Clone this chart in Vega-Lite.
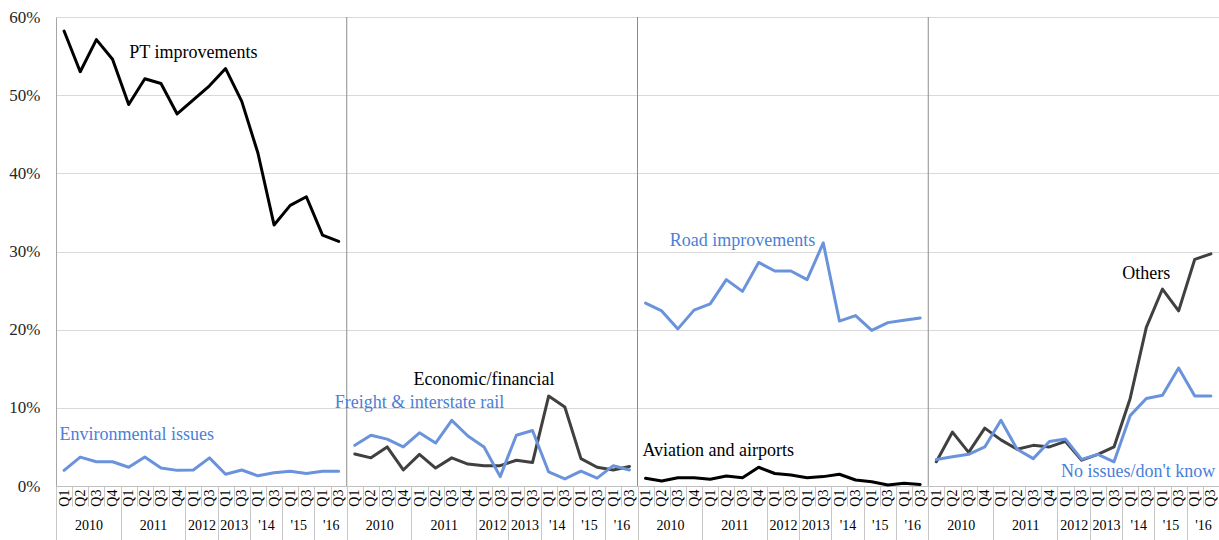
{
  "$schema": "https://vega.github.io/schema/vega-lite/v6.json",
  "width": 1163,
  "height": 469,
  "autosize": {"type": "none"},
  "padding": {"left": 56, "top": 17, "right": 0, "bottom": 54},
  "background": "white",
  "config": {
    "view": {"stroke": null},
    "font": "Liberation Serif",
    "axis": {"labelFont": "Liberation Serif", "titleFont": "Liberation Serif"},
    "text": {"font": "Liberation Serif"}
  },
  "datasets": {
    "pts": [
      {"key": "A|2010|Q1", "series": "PT improvements", "value": 0.582},
      {"key": "A|2010|Q2", "series": "PT improvements", "value": 0.530},
      {"key": "A|2010|Q3", "series": "PT improvements", "value": 0.571},
      {"key": "A|2010|Q4", "series": "PT improvements", "value": 0.546},
      {"key": "A|2011|Q1", "series": "PT improvements", "value": 0.488},
      {"key": "A|2011|Q2", "series": "PT improvements", "value": 0.521},
      {"key": "A|2011|Q3", "series": "PT improvements", "value": 0.515},
      {"key": "A|2011|Q4", "series": "PT improvements", "value": 0.476},
      {"key": "A|2012|Q1", "series": "PT improvements", "value": 0.494},
      {"key": "A|2012|Q3", "series": "PT improvements", "value": 0.512},
      {"key": "A|2013|Q1", "series": "PT improvements", "value": 0.534},
      {"key": "A|2013|Q3", "series": "PT improvements", "value": 0.492},
      {"key": "A|'14|Q1", "series": "PT improvements", "value": 0.426},
      {"key": "A|'14|Q3", "series": "PT improvements", "value": 0.334},
      {"key": "A|'15|Q1", "series": "PT improvements", "value": 0.359},
      {"key": "A|'15|Q3", "series": "PT improvements", "value": 0.370},
      {"key": "A|'16|Q1", "series": "PT improvements", "value": 0.321},
      {"key": "A|'16|Q3", "series": "PT improvements", "value": 0.313},
      {"key": "A|2010|Q1", "series": "Environmental issues", "value": 0.020},
      {"key": "A|2010|Q2", "series": "Environmental issues", "value": 0.037},
      {"key": "A|2010|Q3", "series": "Environmental issues", "value": 0.031},
      {"key": "A|2010|Q4", "series": "Environmental issues", "value": 0.031},
      {"key": "A|2011|Q1", "series": "Environmental issues", "value": 0.024},
      {"key": "A|2011|Q2", "series": "Environmental issues", "value": 0.037},
      {"key": "A|2011|Q3", "series": "Environmental issues", "value": 0.023},
      {"key": "A|2011|Q4", "series": "Environmental issues", "value": 0.020},
      {"key": "A|2012|Q1", "series": "Environmental issues", "value": 0.0205},
      {"key": "A|2012|Q3", "series": "Environmental issues", "value": 0.036},
      {"key": "A|2013|Q1", "series": "Environmental issues", "value": 0.015},
      {"key": "A|2013|Q3", "series": "Environmental issues", "value": 0.0205},
      {"key": "A|'14|Q1", "series": "Environmental issues", "value": 0.013},
      {"key": "A|'14|Q3", "series": "Environmental issues", "value": 0.017},
      {"key": "A|'15|Q1", "series": "Environmental issues", "value": 0.019},
      {"key": "A|'15|Q3", "series": "Environmental issues", "value": 0.016},
      {"key": "A|'16|Q1", "series": "Environmental issues", "value": 0.019},
      {"key": "A|'16|Q3", "series": "Environmental issues", "value": 0.019},
      {"key": "B|2010|Q1", "series": "Economic/financial", "value": 0.041},
      {"key": "B|2010|Q2", "series": "Economic/financial", "value": 0.036},
      {"key": "B|2010|Q3", "series": "Economic/financial", "value": 0.050},
      {"key": "B|2010|Q4", "series": "Economic/financial", "value": 0.0205},
      {"key": "B|2011|Q1", "series": "Economic/financial", "value": 0.0405},
      {"key": "B|2011|Q2", "series": "Economic/financial", "value": 0.023},
      {"key": "B|2011|Q3", "series": "Economic/financial", "value": 0.036},
      {"key": "B|2011|Q4", "series": "Economic/financial", "value": 0.028},
      {"key": "B|2012|Q1", "series": "Economic/financial", "value": 0.026},
      {"key": "B|2012|Q3", "series": "Economic/financial", "value": 0.026},
      {"key": "B|2013|Q1", "series": "Economic/financial", "value": 0.033},
      {"key": "B|2013|Q3", "series": "Economic/financial", "value": 0.030},
      {"key": "B|'14|Q1", "series": "Economic/financial", "value": 0.115},
      {"key": "B|'14|Q3", "series": "Economic/financial", "value": 0.101},
      {"key": "B|'15|Q1", "series": "Economic/financial", "value": 0.035},
      {"key": "B|'15|Q3", "series": "Economic/financial", "value": 0.024},
      {"key": "B|'16|Q1", "series": "Economic/financial", "value": 0.0205},
      {"key": "B|'16|Q3", "series": "Economic/financial", "value": 0.025},
      {"key": "B|2010|Q1", "series": "Freight & interstate rail", "value": 0.052},
      {"key": "B|2010|Q2", "series": "Freight & interstate rail", "value": 0.065},
      {"key": "B|2010|Q3", "series": "Freight & interstate rail", "value": 0.060},
      {"key": "B|2010|Q4", "series": "Freight & interstate rail", "value": 0.050},
      {"key": "B|2011|Q1", "series": "Freight & interstate rail", "value": 0.068},
      {"key": "B|2011|Q2", "series": "Freight & interstate rail", "value": 0.055},
      {"key": "B|2011|Q3", "series": "Freight & interstate rail", "value": 0.084},
      {"key": "B|2011|Q4", "series": "Freight & interstate rail", "value": 0.064},
      {"key": "B|2012|Q1", "series": "Freight & interstate rail", "value": 0.050},
      {"key": "B|2012|Q3", "series": "Freight & interstate rail", "value": 0.012},
      {"key": "B|2013|Q1", "series": "Freight & interstate rail", "value": 0.065},
      {"key": "B|2013|Q3", "series": "Freight & interstate rail", "value": 0.071},
      {"key": "B|'14|Q1", "series": "Freight & interstate rail", "value": 0.018},
      {"key": "B|'14|Q3", "series": "Freight & interstate rail", "value": 0.009},
      {"key": "B|'15|Q1", "series": "Freight & interstate rail", "value": 0.019},
      {"key": "B|'15|Q3", "series": "Freight & interstate rail", "value": 0.010},
      {"key": "B|'16|Q1", "series": "Freight & interstate rail", "value": 0.026},
      {"key": "B|'16|Q3", "series": "Freight & interstate rail", "value": 0.0205},
      {"key": "C|2010|Q1", "series": "Road improvements", "value": 0.234},
      {"key": "C|2010|Q2", "series": "Road improvements", "value": 0.224},
      {"key": "C|2010|Q3", "series": "Road improvements", "value": 0.201},
      {"key": "C|2010|Q4", "series": "Road improvements", "value": 0.225},
      {"key": "C|2011|Q1", "series": "Road improvements", "value": 0.233},
      {"key": "C|2011|Q2", "series": "Road improvements", "value": 0.264},
      {"key": "C|2011|Q3", "series": "Road improvements", "value": 0.249},
      {"key": "C|2011|Q4", "series": "Road improvements", "value": 0.286},
      {"key": "C|2012|Q1", "series": "Road improvements", "value": 0.275},
      {"key": "C|2012|Q3", "series": "Road improvements", "value": 0.275},
      {"key": "C|2013|Q1", "series": "Road improvements", "value": 0.264},
      {"key": "C|2013|Q3", "series": "Road improvements", "value": 0.311},
      {"key": "C|'14|Q1", "series": "Road improvements", "value": 0.211},
      {"key": "C|'14|Q3", "series": "Road improvements", "value": 0.218},
      {"key": "C|'15|Q1", "series": "Road improvements", "value": 0.199},
      {"key": "C|'15|Q3", "series": "Road improvements", "value": 0.209},
      {"key": "C|'16|Q1", "series": "Road improvements", "value": 0.212},
      {"key": "C|'16|Q3", "series": "Road improvements", "value": 0.215},
      {"key": "C|2010|Q1", "series": "Aviation and airports", "value": 0.0098},
      {"key": "C|2010|Q2", "series": "Aviation and airports", "value": 0.0064},
      {"key": "C|2010|Q3", "series": "Aviation and airports", "value": 0.0106},
      {"key": "C|2010|Q4", "series": "Aviation and airports", "value": 0.0106},
      {"key": "C|2011|Q1", "series": "Aviation and airports", "value": 0.0086},
      {"key": "C|2011|Q2", "series": "Aviation and airports", "value": 0.0128},
      {"key": "C|2011|Q3", "series": "Aviation and airports", "value": 0.0106},
      {"key": "C|2011|Q4", "series": "Aviation and airports", "value": 0.024},
      {"key": "C|2012|Q1", "series": "Aviation and airports", "value": 0.016},
      {"key": "C|2012|Q3", "series": "Aviation and airports", "value": 0.014},
      {"key": "C|2013|Q1", "series": "Aviation and airports", "value": 0.0106},
      {"key": "C|2013|Q3", "series": "Aviation and airports", "value": 0.012},
      {"key": "C|'14|Q1", "series": "Aviation and airports", "value": 0.015},
      {"key": "C|'14|Q3", "series": "Aviation and airports", "value": 0.0077},
      {"key": "C|'15|Q1", "series": "Aviation and airports", "value": 0.0055},
      {"key": "C|'15|Q3", "series": "Aviation and airports", "value": 0.0013},
      {"key": "C|'16|Q1", "series": "Aviation and airports", "value": 0.0035},
      {"key": "C|'16|Q3", "series": "Aviation and airports", "value": 0.002},
      {"key": "D|2010|Q1", "series": "Others", "value": 0.031},
      {"key": "D|2010|Q2", "series": "Others", "value": 0.069},
      {"key": "D|2010|Q3", "series": "Others", "value": 0.043},
      {"key": "D|2010|Q4", "series": "Others", "value": 0.074},
      {"key": "D|2011|Q1", "series": "Others", "value": 0.059},
      {"key": "D|2011|Q2", "series": "Others", "value": 0.047},
      {"key": "D|2011|Q3", "series": "Others", "value": 0.052},
      {"key": "D|2011|Q4", "series": "Others", "value": 0.050},
      {"key": "D|2012|Q1", "series": "Others", "value": 0.057},
      {"key": "D|2012|Q3", "series": "Others", "value": 0.033},
      {"key": "D|2013|Q1", "series": "Others", "value": 0.0405},
      {"key": "D|2013|Q3", "series": "Others", "value": 0.050},
      {"key": "D|'14|Q1", "series": "Others", "value": 0.112},
      {"key": "D|'14|Q3", "series": "Others", "value": 0.203},
      {"key": "D|'15|Q1", "series": "Others", "value": 0.252},
      {"key": "D|'15|Q3", "series": "Others", "value": 0.224},
      {"key": "D|'16|Q1", "series": "Others", "value": 0.290},
      {"key": "D|'16|Q3", "series": "Others", "value": 0.297},
      {"key": "D|2010|Q1", "series": "No issues/don't know", "value": 0.034},
      {"key": "D|2010|Q2", "series": "No issues/don't know", "value": 0.0375},
      {"key": "D|2010|Q3", "series": "No issues/don't know", "value": 0.0405},
      {"key": "D|2010|Q4", "series": "No issues/don't know", "value": 0.050},
      {"key": "D|2011|Q1", "series": "No issues/don't know", "value": 0.084},
      {"key": "D|2011|Q2", "series": "No issues/don't know", "value": 0.047},
      {"key": "D|2011|Q3", "series": "No issues/don't know", "value": 0.035},
      {"key": "D|2011|Q4", "series": "No issues/don't know", "value": 0.057},
      {"key": "D|2012|Q1", "series": "No issues/don't know", "value": 0.060},
      {"key": "D|2012|Q3", "series": "No issues/don't know", "value": 0.034},
      {"key": "D|2013|Q1", "series": "No issues/don't know", "value": 0.0405},
      {"key": "D|2013|Q3", "series": "No issues/don't know", "value": 0.031},
      {"key": "D|'14|Q1", "series": "No issues/don't know", "value": 0.090},
      {"key": "D|'14|Q3", "series": "No issues/don't know", "value": 0.112},
      {"key": "D|'15|Q1", "series": "No issues/don't know", "value": 0.116},
      {"key": "D|'15|Q3", "series": "No issues/don't know", "value": 0.151},
      {"key": "D|'16|Q1", "series": "No issues/don't know", "value": 0.115},
      {"key": "D|'16|Q3", "series": "No issues/don't know", "value": 0.115}
    ],
    "notes": [
      {"series": "PT improvements", "key": "A|2012|Q1", "value": 0.554},
      {"series": "Environmental issues", "key": "A|2011|Q2", "value": 0.065},
      {"series": "Freight & interstate rail", "key": "B|2011|Q1", "value": 0.106},
      {"series": "Economic/financial", "key": "B|2012|Q1", "value": 0.136},
      {"series": "Road improvements", "key": "C|2011|Q3", "value": 0.313},
      {"series": "Aviation and airports", "key": "C|2011|Q2", "value": 0.045},
      {"series": "Others", "key": "D|'14|Q3", "value": 0.271},
      {"series": "No issues/don't know", "key": "D|'14|Q3", "value": 0.018}
    ]
  },
  "resolve": {"scale": {"color": "independent"}, "axis": {"x": "independent"}},
  "layer": [
    {
      "data": {"name": "pts"},
      "mark": {"type": "line", "strokeWidth": 3, "strokeJoin": "round", "strokeCap": "round"},
      "encoding": {
        "x": {
          "field": "key", "type": "ordinal", "sort": null,
          "scale": {"paddingInner": 0, "paddingOuter": 0},
          "axis": {
            "orient": "bottom",
            "title": null, "grid": false, "tickBand": "extent", "tickSize": 20,
            "tickColor": "#c8c8c8", "domainColor": "#bfbfbf", "domainWidth": 1,
            "labelAngle": -90, "labelAlign": "right", "labelBaseline": "middle",
            "labelPadding": -17, "labelFont": "Liberation Serif", "labelFontSize": 14,
            "labelColor": "#000000", "labelOverlap": false,
            "labelExpr": "split(datum.value, '|')[2]"
          }
        },
        "y": {
          "field": "value", "type": "quantitative",
          "scale": {"domain": [0, 0.6], "nice": false, "zero": true},
          "axis": {
            "title": null, "values": [0, 0.1, 0.2, 0.3, 0.4, 0.5, 0.6], "format": ".0%",
            "grid": true, "gridColor": "#d9d9d9", "gridWidth": 1, "ticks": false,
            "domain": true, "domainColor": "#a6a6a6",
            "labelFont": "Liberation Serif", "labelFontSize": 17, "labelColor": "#262626",
            "labelPadding": 16
          }
        },
        "color": {
          "field": "series", "type": "nominal", "legend": null,
          "scale": {
            "domain": ["PT improvements", "Environmental issues", "Economic/financial", "Freight & interstate rail", "Road improvements", "Aviation and airports", "Others", "No issues/don't know"],
            "range": ["#000000", "#6a93dc", "#404040", "#6a93dc", "#6a93dc", "#000000", "#404040", "#6a93dc"]
          }
        }
      }
    },
    {
      "data": {"name": "pts"},
      "transform": [
        {"filter": "indexof(datum.key, '|2010|Q1') > 0 && datum.key != 'A|2010|Q1' && (datum.series == 'Economic/financial' || datum.series == 'Road improvements' || datum.series == 'Others')"}
      ],
      "mark": {"type": "rule", "color": "#8c8c8c", "strokeWidth": 1},
      "encoding": {
        "x": {
          "field": "key", "type": "ordinal", "sort": null, "bandPosition": 0,
          "axis": {
            "orient": "bottom",
            "title": null, "grid": false, "domain": false, "tickBand": "extent", "tickSize": 54,
            "tickColor": "#c8c8c8",
            "tickOpacity": {"condition": {"test": "datum.extra || split(datum.value, '|')[2] == 'Q4' || (split(datum.value, '|')[2] == 'Q3' && split(datum.value, '|')[1] != '2010' && split(datum.value, '|')[1] != '2011')", "value": 1}, "value": 0},
            "labelAngle": 0, "labelAlign": "center", "labelBaseline": "middle",
            "labelPadding": -15, "labelOffset": -8, "labelOverlap": false,
            "labelFont": "Liberation Serif", "labelFontSize": 14, "labelColor": "#000000",
            "labelExpr": "split(datum.value, '|')[2] == 'Q3' ? split(datum.value, '|')[1] : ''"
          }
        }
      }
    },
    {
      "data": {"name": "notes"},
      "transform": [
        {"filter": "datum.series == 'PT improvements' || datum.series == 'Freight & interstate rail' || datum.series == 'Economic/financial' || datum.series == 'Road improvements' || datum.series == 'Others'"}
      ],
      "mark": {"type": "text", "align": "center", "baseline": "middle", "font": "Liberation Serif", "fontSize": 18},
      "encoding": {
        "x": {"field": "key", "type": "ordinal", "sort": null, "axis": null},
        "y": {"field": "value", "type": "quantitative"},
        "text": {"field": "series"},
        "color": {
          "field": "series", "type": "nominal", "legend": null,
          "scale": {
            "domain": ["PT improvements", "Environmental issues", "Economic/financial", "Freight & interstate rail", "Road improvements", "Aviation and airports", "Others", "No issues/don't know"],
            "range": ["#000000", "#4a80d8", "#000000", "#4a80d8", "#4a80d8", "#000000", "#000000", "#4a80d8"]
          }
        }
      }
    },
    {
      "data": {"name": "notes"},
      "transform": [
        {"filter": "datum.series == 'Environmental issues' || datum.series == 'Aviation and airports' || datum.series == \"No issues/don't know\""}
      ],
      "mark": {"type": "text", "align": "center", "baseline": "middle", "font": "Liberation Serif", "fontSize": 18},
      "encoding": {
        "x": {"field": "key", "type": "ordinal", "sort": null, "bandPosition": 0, "axis": null},
        "y": {"field": "value", "type": "quantitative"},
        "text": {"field": "series"},
        "color": {
          "field": "series", "type": "nominal", "legend": null,
          "scale": {
            "domain": ["PT improvements", "Environmental issues", "Economic/financial", "Freight & interstate rail", "Road improvements", "Aviation and airports", "Others", "No issues/don't know"],
            "range": ["#000000", "#4a80d8", "#000000", "#4a80d8", "#4a80d8", "#000000", "#000000", "#4a80d8"]
          }
        }
      }
    }
  ]
}
